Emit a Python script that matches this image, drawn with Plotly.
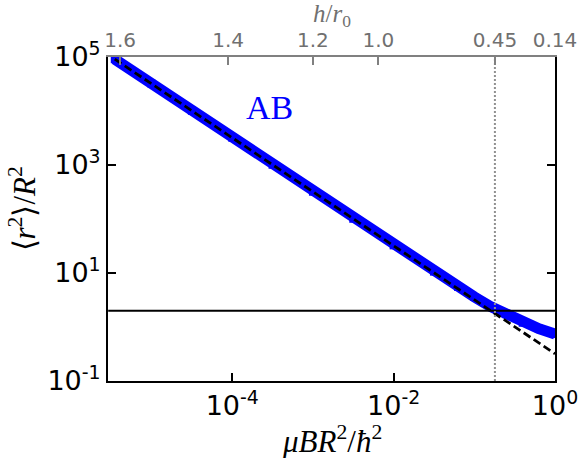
import plotly.graph_objects as go

# ---- data ----
x_blue = [3.5e-6, 1e-5, 3.16e-5, 1e-4, 3.16e-4, 1e-3, 3.16e-3, 1e-2, 3.16e-2,
          0.063, 0.1, 0.158, 0.251, 0.398, 0.631, 1.0]
y_blue = [91000, 32000, 10100, 3200, 1010, 320, 101, 32.5, 10.6,
          5.5, 3.6, 2.4, 1.72, 1.20, 0.93, 0.74]
x_dash = [3.5e-6, 1e-4, 1e-2, 1.0]
y_dash = [91000, 3200, 32.0, 0.32]
x_hline = [2.9e-6, 1.0]
y_hline = [2.0, 2.0]
x_vline = [0.18, 0.18]
y_vline = [0.1, 1e5]

x_ticks = [1e-4, 1e-2, 1.0]
x_ticktext = ["10<sup>-4</sup>", "10<sup>-2</sup>", "10<sup>0</sup>"]
y_ticks = [0.1, 10, 1000, 1e5]
y_ticktext = ["10<sup>-1</sup>", "10<sup>1</sup>", "10<sup>3</sup>", "10<sup>5</sup>"]
top_ticks = [4.07e-6, 8.9e-5, 1e-3, 6.46e-3, 0.18, 1.0]
top_ticktext = ["1.6", "1.4", "1.2", "1.0", "0.45", "0.14"]

xrange_log = [-5.54, 0]
yrange_log = [-1, 5]

fig = go.Figure()
fig.add_trace(go.Scatter(x=x_blue, y=y_blue, mode="lines+markers",
                         line=dict(color="#0000ff", width=11),
                         marker=dict(symbol="square", size=8, color="#0000ff"),
                         showlegend=False))
fig.add_trace(go.Scatter(x=x_dash, y=y_dash, mode="lines",
                         line=dict(color="black", width=2.8, dash="8px,4px"),
                         showlegend=False))
fig.add_trace(go.Scatter(x=x_hline, y=y_hline, mode="lines",
                         line=dict(color="black", width=2), showlegend=False))
fig.add_trace(go.Scatter(x=x_vline, y=y_vline, mode="lines",
                         line=dict(color="#909090", width=2, dash="2px,2px"),
                         showlegend=False))
# invisible trace to anchor top axis
fig.add_trace(go.Scatter(x=[1e-3], y=[1], xaxis="x2", mode="markers",
                         marker=dict(opacity=0), showlegend=False, hoverinfo="skip"))

tickfont = dict(family="DejaVu Sans", size=27, color="black")
fig.update_layout(
    width=581, height=458,
    margin=dict(l=108, r=26, t=57, b=77, autoexpand=False),
    paper_bgcolor="white", plot_bgcolor="white",
    xaxis=dict(type="log", range=xrange_log, tickvals=x_ticks, ticktext=x_ticktext,
               ticks="inside", ticklen=8, tickwidth=1.5, tickcolor="black",
               showline=True, linecolor="black", linewidth=2, mirror=False,
               showgrid=False, zeroline=False, tickfont=tickfont, automargin=False),
    xaxis2=dict(type="log", range=xrange_log, overlaying="x", side="top",
                tickvals=top_ticks, ticktext=top_ticktext,
                ticks="inside", ticklen=8, tickwidth=1.5, tickcolor="#808080",
                showline=True, linecolor="#808080", linewidth=2,
                showgrid=False, zeroline=False, automargin=False,
                tickfont=dict(family="DejaVu Sans", size=20, color="#707070")),
    yaxis=dict(type="log", range=yrange_log, tickvals=y_ticks, ticktext=y_ticktext,
               ticks="inside", ticklen=8, tickwidth=1.5, tickcolor="black",
               showline=True, linecolor="black", linewidth=2, mirror="ticks",
               showgrid=False, zeroline=False, tickfont=tickfont, automargin=False),
    annotations=[
        dict(text="AB", x=0.362, y=0.843, xref="paper", yref="paper",
             showarrow=False, xanchor="center", yanchor="middle",
             font=dict(family="Liberation Serif", size=34, color="#0000ff")),
        dict(text="<i>μBR</i><sup>2</sup>/<i>ħ</i><sup>2</sup>", x=0.5, y=-0.182,
             xref="paper", yref="paper", showarrow=False,
             xanchor="center", yanchor="middle",
             font=dict(family="Liberation Serif", size=31, color="black")),
        dict(text="⟨<i>r</i><sup>2</sup>⟩/<i>R</i><sup>2</sup>", x=-0.192, y=0.53,
             xref="paper", yref="paper", showarrow=False, textangle=-90,
             xanchor="center", yanchor="middle",
             font=dict(family="Liberation Serif", size=31, color="black")),
        dict(text="<i>h</i>/<i>r</i><sub>0</sub>", x=0.5, y=1.128,
             xref="paper", yref="paper", showarrow=False,
             xanchor="center", yanchor="middle",
             font=dict(family="Liberation Serif", size=25, color="#707070")),
    ],
)

fig.write_html("out.html", config={"displayModeBar": False},
               post_script="document.body.style.margin='0';document.body.style.overflow='hidden';")
